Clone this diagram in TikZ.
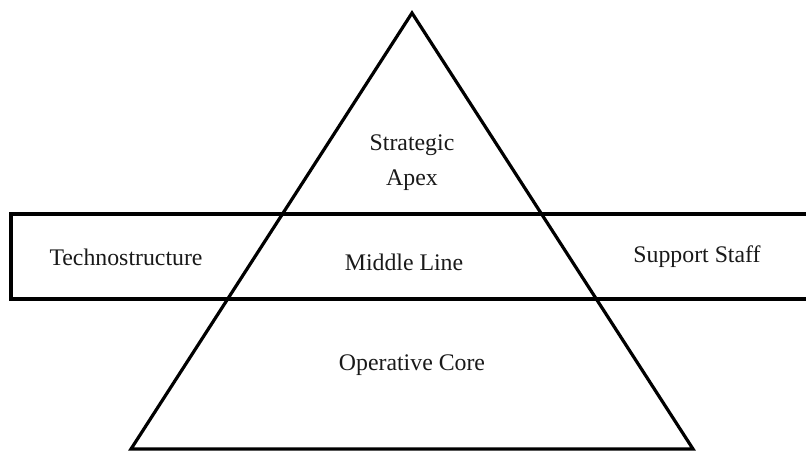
\documentclass[tikz,border=0pt]{standalone}
\usepackage{fontspec}
\setmainfont{Liberation Serif}
\usepackage{tikz}
\usetikzlibrary{positioning}
\tikzstyle{mintz}=[
  x=1pt, y=-1pt, line width=3.2pt, line join=miter
]
\tikzstyle{label}=[
  text=black!90, font=\fontsize{23.8}{35}\selectfont, align=center, inner sep=0pt
]

\begin{document}
\begin{tikzpicture}[mintz]
  \clip (0, 0) rectangle (806, 452);
  \coordinate (apex) at (412, 13);
  \coordinate (bl) at (131, 449);
  \coordinate (br) at (693, 449);
  \coordinate (band nw) at (11, 214);
  \coordinate (band se) at (830, 299);

  \node (strategic) at (412, 163) [label] {Strategic\\Apex};
  \node (techno) at (126, 257) [label] {Technostructure};
  \node (middle) at (404, 262) [label] {Middle Line};
  \node (support) at (697, 257) [label] {Support Staff};
  \node (operative) at (412, 365) [label] {Operative Core};

  \draw (apex) -- (br) -- (bl) -- cycle;
  \draw (band nw) rectangle (band se);
\end{tikzpicture}
\end{document}
